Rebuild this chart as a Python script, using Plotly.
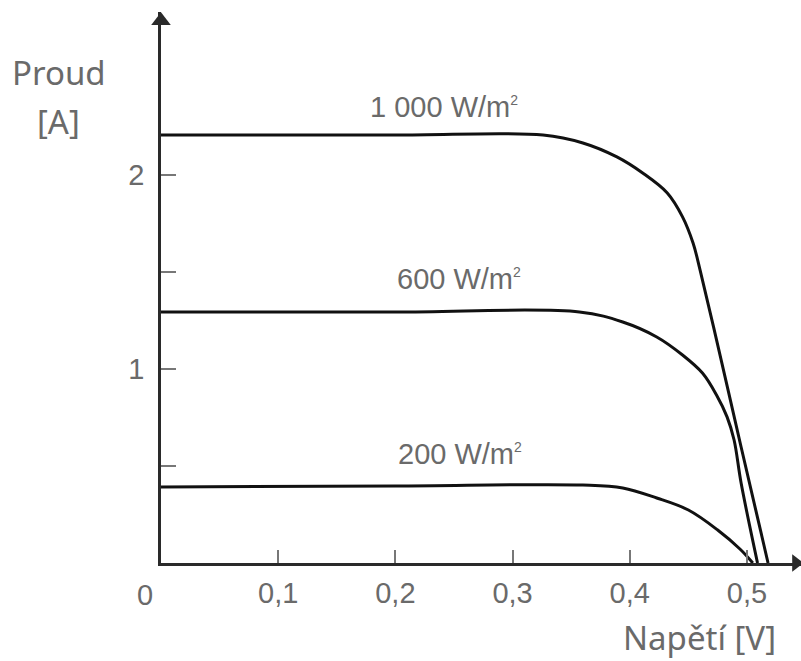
import plotly.graph_objects as go

# ---- data ----
v_1000 = [0, 0.2, 0.326, 0.360, 0.389, 0.411, 0.432, 0.445, 0.454, 0.460, 0.478, 0.495, 0.518]
i_1000 = [2.206, 2.206, 2.206, 2.165, 2.093, 2.010, 1.907, 1.784, 1.649, 1.510, 1.046, 0.598, 0]

v_600 = [0, 0.2, 0.357, 0.394, 0.423, 0.445, 0.462, 0.474, 0.483, 0.489, 0.495, 0.509]
i_600 = [1.294, 1.294, 1.294, 1.242, 1.165, 1.072, 0.979, 0.866, 0.753, 0.634, 0.412, 0]

v_200 = [0, 0.2, 0.360, 0.394, 0.423, 0.450, 0.475, 0.494, 0.505]
i_200 = [0.392, 0.397, 0.402, 0.387, 0.335, 0.273, 0.170, 0.072, 0]

x_tick_vals = [0.1, 0.2, 0.3, 0.4, 0.5]
x_tick_text = ["0,1", "0,2", "0,3", "0,4", "0,5"]
y_tick_vals = [1, 2]
y_tick_text = ["1", "2"]
y_minor_vals = [0.5, 1.5]

SUP = "<sup><span style='font-size:14px'>2</span></sup>"
series_labels = ["1 000 W/m" + SUP, "600 W/m" + SUP, "200 W/m" + SUP]

X_MAX = 0.5461
Y_MAX = 2.840

LINE_COLOR = "#111111"
TEXT_GRAY = "#6a6a6a"
AXIS_COLOR = "#2a2a2a"

fig = go.Figure()
for v, i in [(v_1000, i_1000), (v_600, i_600), (v_200, i_200)]:
    fig.add_trace(go.Scatter(
        x=v, y=i, mode="lines",
        line=dict(color=LINE_COLOR, width=3, shape="spline", smoothing=1.0),
        hoverinfo="skip", showlegend=False,
    ))

# axis arrowheads
fig.add_trace(go.Scatter(
    x=[0.5418], y=[0], mode="markers",
    marker=dict(symbol="triangle-right", size=15, color=AXIS_COLOR),
    cliponaxis=False, showlegend=False, hoverinfo="skip",
))
fig.add_trace(go.Scatter(
    x=[0], y=[2.795], mode="markers",
    marker=dict(symbol="triangle-up", size=17, color=AXIS_COLOR),
    cliponaxis=False, showlegend=False, hoverinfo="skip",
))

label_pos = [(0.2415, 2.35), (0.254, 1.464), (0.255, 0.562)]
for txt, (lx, ly) in zip(series_labels, label_pos):
    fig.add_annotation(x=lx, y=ly, text=txt, showarrow=False,
                       font=dict(family="Liberation Sans", size=29, color=TEXT_GRAY),
                       xanchor="center", yanchor="middle")

# origin label "0"
fig.add_annotation(x=0, y=0, text="0", showarrow=False, xshift=-16, yshift=-32,
                   font=dict(family="Liberation Sans", size=29, color=TEXT_GRAY),
                   xanchor="center", yanchor="middle")

# axis titles
fig.add_annotation(xref="paper", yref="paper", x=-0.16, y=1, text="Proud", showarrow=False,
                   xanchor="center", yanchor="middle", yshift=-60,
                   font=dict(family="Noto Sans", size=33, color=TEXT_GRAY))
fig.add_annotation(xref="paper", yref="paper", x=-0.16, y=1, text="[A]", showarrow=False,
                   xanchor="center", yanchor="middle", yshift=-109,
                   font=dict(family="Noto Sans", size=33, color=TEXT_GRAY))
fig.add_annotation(xref="paper", yref="paper", x=0.842, y=0, text="Napětí [V]",
                   showarrow=False, xanchor="center", yanchor="middle", yshift=-74,
                   font=dict(family="Noto Sans", size=33, color=TEXT_GRAY))

fig.update_layout(
    width=801, height=661,
    margin=dict(l=161, r=0, t=12, b=98),
    paper_bgcolor="white", plot_bgcolor="white",
    xaxis=dict(range=[0, X_MAX], showgrid=False, zeroline=False,
               showline=True, linecolor=AXIS_COLOR, linewidth=2.5,
               ticks="inside", ticklen=13, tickwidth=1.5, tickcolor="#777777",
               tickvals=x_tick_vals, ticktext=x_tick_text,
               tickfont=dict(family="Liberation Sans", size=29, color=TEXT_GRAY),
               ticklabelstandoff=2, fixedrange=True),
    yaxis=dict(range=[0, Y_MAX], showgrid=False, zeroline=False,
               showline=True, linecolor=AXIS_COLOR, linewidth=2.5,
               ticks="inside", ticklen=15, tickwidth=1.5, tickcolor="#777777",
               tickvals=y_tick_vals, ticktext=y_tick_text,
               minor=dict(tickvals=y_minor_vals, ticks="inside", ticklen=15,
                          tickwidth=1.5, tickcolor="#777777", showgrid=False),
               tickfont=dict(family="Liberation Sans", size=29, color=TEXT_GRAY),
               ticklabelstandoff=8, fixedrange=True),
)

fig.write_html("out.html", config={"displayModeBar": False},
               post_script="document.body.style.margin='0';document.body.style.overflow='hidden';")
